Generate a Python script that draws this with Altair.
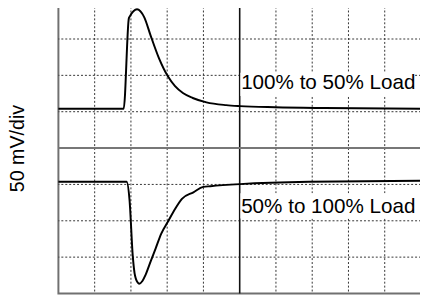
import altair as alt
import pandas as pd

# Trace 1: 100% to 50% load (x in divisions, y in divisions)
top_x = [0.0, 1.80, 1.943, 1.970, 2.168, 2.369, 2.539, 2.775, 3.019, 3.217,
         3.434, 3.705, 4.084, 4.626, 5.005, 5.981, 7.336, 10.0]
top_y = [1.081, 1.081, 3.568, 3.622, 3.819, 3.595, 3.108, 2.468, 1.973, 1.703,
         1.514, 1.378, 1.257, 1.181, 1.154, 1.122, 1.100, 1.081]

# Trace 2: 50% to 100% load
bot_x = [0.0, 1.881, 1.962, 2.051, 2.114, 2.206, 2.228, 2.322, 2.404, 2.547,
         2.683, 2.837, 3.019, 3.217, 3.407, 3.724, 3.995, 4.192, 5.005, 6.902, 10.0]
bot_y = [-0.927, -0.927, -1.432, -2.973, -3.514, -3.720, -3.730, -3.649, -3.486, -3.108,
         -2.757, -2.351, -2.027, -1.676, -1.397, -1.216, -1.068, -1.049, -0.992, -0.927, -0.900]

grid_x = [1, 2, 3, 4, 6, 7, 8, 9]
grid_y = [-3, -2, -1, 1, 2, 3]
center_x = [5]
center_y = [0]

labels = ["100% to 50% Load", "50% to 100% Load"]
label_x = [5.04, 5.04]
label_y = [1.62, -1.78]
box_x = [5.02, 5.02]
box_x2 = [9.80, 9.80]
box_y = [2.07, -1.24]
box_y2 = [1.43, -1.94]

traces = pd.DataFrame({
    "t": top_x + bot_x,
    "v": top_y + bot_y,
    "s": ["a"] * len(top_x) + ["b"] * len(bot_x),
})

xs = alt.Scale(domain=[0, 10], nice=False, zero=False)
ys = alt.Scale(domain=[-4, 4], nice=False, zero=False)

yaxis = alt.Axis(title="50 mV/div", labels=False, ticks=False, domain=False, grid=False,
                 titleFontSize=20, titleFont="Liberation Sans", titleFontWeight="normal",
                 titleColor="black", titlePadding=32)

vgrid = alt.Chart(pd.DataFrame({"x": grid_x})).mark_rule(
    color="#333333", strokeDash=[2, 2], strokeWidth=1
).encode(x=alt.X("x:Q", scale=xs, axis=None))

hgrid = alt.Chart(pd.DataFrame({"y": grid_y})).mark_rule(
    color="#333333", strokeDash=[2, 2], strokeWidth=1
).encode(y=alt.Y("y:Q", scale=ys, axis=yaxis))

vcenter = alt.Chart(pd.DataFrame({"x": center_x})).mark_rule(
    color="#111111", strokeWidth=1.6
).encode(x=alt.X("x:Q", scale=xs, axis=None))

hcenter = alt.Chart(pd.DataFrame({"y": center_y})).mark_rule(
    color="#777777", strokeWidth=2
).encode(y=alt.Y("y:Q", scale=ys, axis=yaxis))

boxes = alt.Chart(pd.DataFrame({"x": box_x, "x2": box_x2, "y": box_y, "y2": box_y2})).mark_rect(
    color="white"
).encode(
    x=alt.X("x:Q", scale=xs, axis=None), x2="x2:Q",
    y=alt.Y("y:Q", scale=ys, axis=yaxis), y2="y2:Q",
)

texts = alt.Chart(pd.DataFrame({"x": label_x, "y": label_y, "label": labels})).mark_text(
    align="left", baseline="alphabetic", fontSize=21, font="Liberation Sans", color="black"
).encode(
    x=alt.X("x:Q", scale=xs, axis=None),
    y=alt.Y("y:Q", scale=ys, axis=yaxis),
    text="label:N",
)

lines = alt.Chart(traces).mark_line(color="black", strokeWidth=2, interpolate="monotone").encode(
    x=alt.X("t:Q", scale=xs, axis=None),
    y=alt.Y("v:Q", scale=ys, axis=yaxis),
    detail="s:N",
)

chart = alt.layer(vgrid, hgrid, vcenter, hcenter, boxes, texts, lines).properties(
    width=369,
    height=296,
    autosize=alt.AutoSizeParams(type="none"),
    padding={"left": 51.3, "top": -8, "right": -1, "bottom": 0},
    background="white",
).configure_view(stroke="#707070", strokeWidth=2)

chart.save("out.html", embed_options={"renderer": "svg", "actions": False})
